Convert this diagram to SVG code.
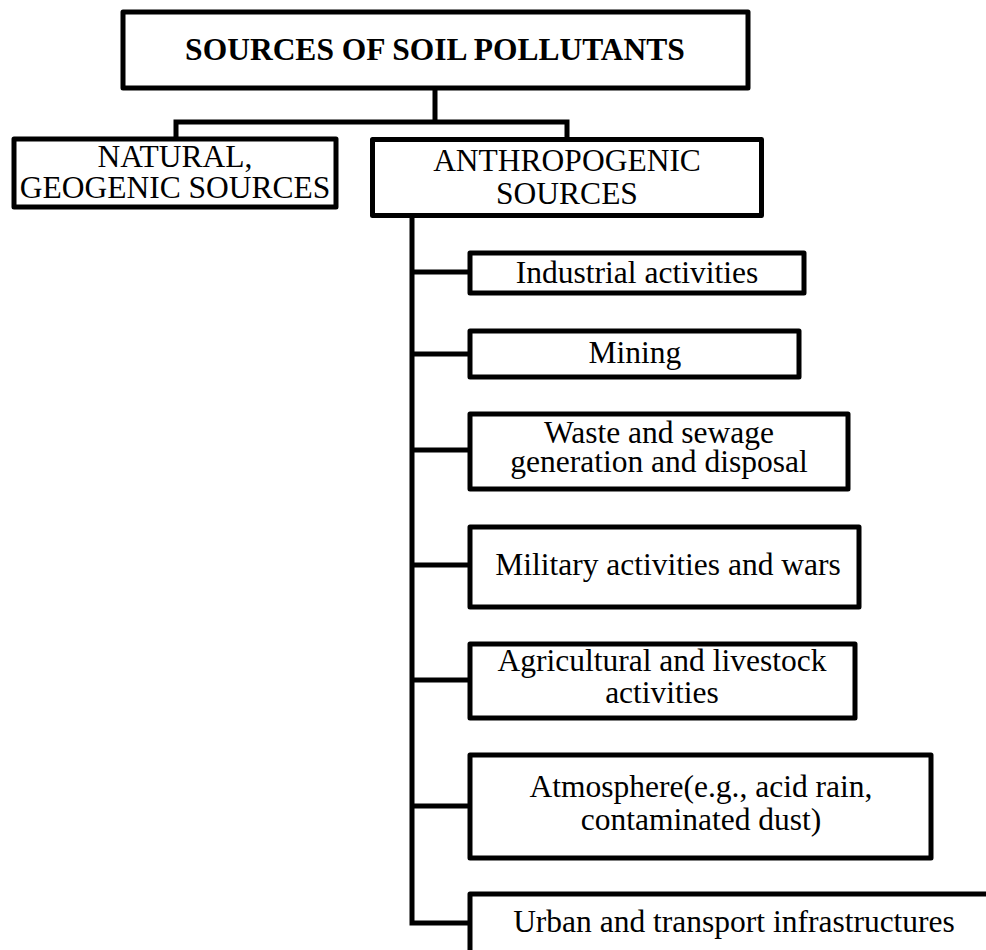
<svg xmlns="http://www.w3.org/2000/svg" width="986" height="950" viewBox="0 0 986 950">
<style>
.box{fill:#fff;stroke:#000;stroke-width:5;stroke-linejoin:round}
.ln{fill:none;stroke:#000;stroke-width:5;stroke-linejoin:miter;stroke-linecap:square}
text{font-family:"Liberation Serif","Times New Roman",serif;font-size:31.5px;fill:#000;text-anchor:middle}
.b{font-weight:bold}
</style>
<rect width="986" height="950" fill="#fff"/>
<g id="connectors">
<path class="ln" d="M435,90 V122 M176,139 V122 H567 V139"/>
<path class="ln" d="M412,218 V923 H468 M412,272 H468 M412,354 H468 M412,450 H468 M412,565 H468 M412,680 H468 M412,806 H468"/>
</g>
<g id="root"><rect class="box" x="123" y="12" width="625" height="76"/><text class="b" x="435" y="60">SOURCES OF SOIL POLLUTANTS</text></g>
<g id="natural"><rect class="box" x="14" y="139" width="322" height="68"/><text x="175" y="167">NATURAL,</text><text x="175" y="198">GEOGENIC SOURCES</text></g>
<g id="anthropogenic"><rect class="box" x="372.5" y="139.5" width="389" height="76"/><text x="567" y="171">ANTHROPOGENIC</text><text x="567" y="204">SOURCES</text></g>
<g id="industrial"><rect class="box" x="470" y="253" width="334" height="40"/><text x="637" y="283">Industrial activities</text></g>
<g id="mining"><rect class="box" x="470" y="331" width="329" height="46"/><text x="635" y="363">Mining</text></g>
<g id="waste"><rect class="box" x="470" y="414" width="378" height="75"/><text x="659" y="443">Waste and sewage</text><text x="659" y="472">generation and disposal</text></g>
<g id="military"><rect class="box" x="470" y="527" width="389" height="80"/><text x="668" y="575">Military activities and wars</text></g>
<g id="agricultural"><rect class="box" x="470" y="644" width="385" height="74"/><text x="662" y="671">Agricultural and livestock</text><text x="662" y="703">activities</text></g>
<g id="atmosphere"><rect class="box" x="470" y="755" width="461" height="103"/><text x="701" y="797">Atmosphere(e.g., acid rain,</text><text x="701" y="830">contaminated dust)</text></g>
<g id="urban"><rect class="box" x="470" y="894" width="600" height="100"/><text x="734" y="932">Urban and transport infrastructures</text></g>
</svg>
